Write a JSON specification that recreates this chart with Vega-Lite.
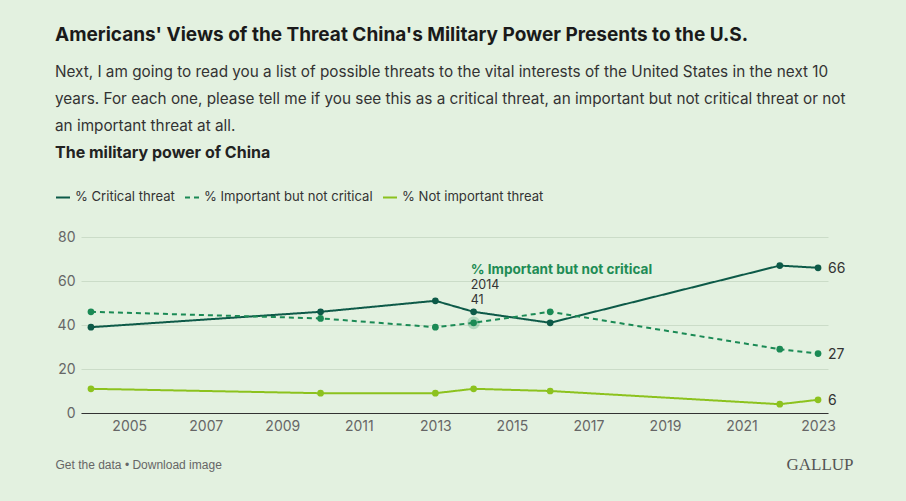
{
  "$schema": "https://vega.github.io/schema/vega-lite/v6.json",
  "width": 747,
  "height": 176,
  "autosize": {"type": "none"},
  "padding": {"left": 81, "top": 237, "right": 78, "bottom": 88},
  "background": "#e3f1e0",
  "title": {
    "text": "Americans' Views of the Threat China's Military Power Presents to the U.S.",
    "subtitle": [
      "Next, I am going to read you a list of possible threats to the vital interests of the United States in the next 10",
      "years. For each one, please tell me if you see this as a critical threat, an important but not critical threat or not",
      "an important threat at all."
    ],
    "anchor": "start",
    "frame": "group",
    "dx": -26,
    "dy": -1,
    "offset": 10,
    "font": "Inter",
    "fontSize": 19,
    "fontWeight": "bold",
    "color": "#1a1a1a",
    "subtitleFont": "Inter",
    "subtitleFontSize": 15.3,
    "subtitleColor": "#333333",
    "subtitleLineHeight": 27,
    "subtitlePadding": 20
  },
  "config": {
    "view": {"stroke": null},
    "font": "Inter"
  },
  "data": {
    "values": [
      {"year": 2004, "series": "% Critical threat", "value": 39},
      {"year": 2010, "series": "% Critical threat", "value": 46},
      {"year": 2013, "series": "% Critical threat", "value": 51},
      {"year": 2014, "series": "% Critical threat", "value": 46},
      {"year": 2016, "series": "% Critical threat", "value": 41},
      {"year": 2022, "series": "% Critical threat", "value": 67},
      {"year": 2023, "series": "% Critical threat", "value": 66},
      {"year": 2004, "series": "% Important but not critical", "value": 46},
      {"year": 2010, "series": "% Important but not critical", "value": 43},
      {"year": 2013, "series": "% Important but not critical", "value": 39},
      {"year": 2014, "series": "% Important but not critical", "value": 41},
      {"year": 2016, "series": "% Important but not critical", "value": 46},
      {"year": 2022, "series": "% Important but not critical", "value": 29},
      {"year": 2023, "series": "% Important but not critical", "value": 27},
      {"year": 2004, "series": "% Not important threat", "value": 11},
      {"year": 2010, "series": "% Not important threat", "value": 9},
      {"year": 2013, "series": "% Not important threat", "value": 9},
      {"year": 2014, "series": "% Not important threat", "value": 11},
      {"year": 2016, "series": "% Not important threat", "value": 10},
      {"year": 2022, "series": "% Not important threat", "value": 4},
      {"year": 2023, "series": "% Not important threat", "value": 6}
    ]
  },
  "encoding": {
    "x": {
      "field": "year",
      "type": "quantitative",
      "scale": {"domain": [2003.74, 2023.26], "nice": false, "zero": false},
      "axis": {
        "values": [2005, 2007, 2009, 2011, 2013, 2015, 2017, 2019, 2021, 2023],
        "format": "d",
        "grid": false,
        "ticks": false,
        "domainColor": "#333333",
        "labelFontSize": 14,
        "labelColor": "#666666",
        "labelPadding": 6,
        "labelFont": "Inter",
        "title": "Get the data • Download image",
        "titleX": -26,
        "titleY": 55,
        "titleAlign": "left",
        "titleBaseline": "alphabetic",
        "titleFont": "Liberation Sans",
        "titleFontSize": 12,
        "titleFontWeight": "normal",
        "titleColor": "#666666"
      }
    },
    "y": {
      "field": "value",
      "type": "quantitative",
      "scale": {"domain": [0, 80], "nice": false},
      "axis": {
        "values": [0, 20, 40, 60, 80],
        "domain": false,
        "ticks": false,
        "gridColor": "#cbdcc8",
        "labelFontSize": 14,
        "labelColor": "#666666",
        "labelPadding": 6,
        "labelFont": "Inter",
        "title": "GALLUP",
        "titleAngle": 0,
        "titleX": 772,
        "titleY": 232,
        "titleAlign": "right",
        "titleBaseline": "alphabetic",
        "titleFont": "Liberation Serif",
        "titleFontSize": 17,
        "titleFontWeight": "normal",
        "titleColor": "#555555"
      }
    }
  },
  "layer": [
    {
      "mark": {"type": "line", "strokeWidth": 2},
      "encoding": {
        "color": {
          "field": "series",
          "type": "nominal",
          "scale": {
            "domain": ["% Critical threat", "% Important but not critical", "% Not important threat"],
            "range": ["#0d5a48", "#1b8a55", "#8cc21e"]
          },
          "legend": {
            "orient": "none",
            "direction": "horizontal",
            "legendX": -26,
            "legendY": -92,
            "title": "The military power of China",
            "titleLimit": 600,
            "labelLimit": 400,
            "titleFont": "Inter",
            "titleFontSize": 16,
            "titleFontWeight": "bold",
            "titleColor": "#222222",
            "titlePadding": 28,
            "symbolType": "stroke",
            "symbolSize": 196,
            "symbolStrokeWidth": 2,
            "labelFont": "Inter",
            "labelFontSize": 13.1,
            "labelColor": "#333333",
            "labelOffset": 4,
            "columnPadding": 6
          }
        },
        "strokeDash": {
          "field": "series",
          "type": "nominal",
          "scale": {
            "domain": ["% Critical threat", "% Important but not critical", "% Not important threat"],
            "range": [[1, 0], [5, 4], [1, 0]]
          },
          "legend": {
            "orient": "none",
            "direction": "horizontal",
            "legendX": -26,
            "legendY": -92,
            "title": "The military power of China",
            "titleLimit": 600,
            "labelLimit": 400,
            "titleFont": "Inter",
            "titleFontSize": 16,
            "titleFontWeight": "bold",
            "titleColor": "#222222",
            "titlePadding": 28,
            "symbolType": "stroke",
            "symbolSize": 196,
            "symbolStrokeWidth": 2,
            "labelFont": "Inter",
            "labelFontSize": 13.1,
            "labelColor": "#333333",
            "labelOffset": 4,
            "columnPadding": 6
          }
        }
      }
    },
    {
      "transform": [{"filter": "datum.year == 2014 && datum.series == '% Important but not critical'"}],
      "mark": {"type": "circle", "size": 160, "opacity": 0.25, "color": "#1b8a55"},
      "encoding": {}
    },
    {
      "mark": {"type": "circle", "size": 45, "opacity": 1},
      "encoding": {
        "color": {"field": "series", "type": "nominal", "legend": null}
      }
    },
    {
      "transform": [{"filter": "datum.year == 2023"}],
      "mark": {"type": "text", "align": "left", "baseline": "middle", "dx": 10, "dy": 1, "fontSize": 14, "color": "#333333", "font": "Inter"},
      "encoding": {"text": {"field": "value", "type": "quantitative"}}
    },
    {
      "transform": [{"filter": "datum.year == 2014 && datum.series == '% Important but not critical'"}],
      "mark": {"type": "text", "align": "left", "baseline": "alphabetic", "dx": -3, "dy": -49, "fontSize": 13.6, "fontWeight": "bold", "color": "#1e8c55", "font": "Inter"},
      "encoding": {"text": {"value": "% Important but not critical"}}
    },
    {
      "transform": [{"filter": "datum.year == 2014 && datum.series == '% Important but not critical'"}],
      "mark": {"type": "text", "align": "left", "baseline": "alphabetic", "dx": -3, "dy": -34, "fontSize": 12.5, "color": "#333333", "font": "Inter"},
      "encoding": {"text": {"field": "year", "type": "nominal"}}
    },
    {
      "transform": [{"filter": "datum.year == 2014 && datum.series == '% Important but not critical'"}],
      "mark": {"type": "text", "align": "left", "baseline": "alphabetic", "dx": -3, "dy": -19, "fontSize": 12.5, "color": "#333333", "font": "Inter"},
      "encoding": {"text": {"field": "value", "type": "quantitative"}}
    }
  ]
}
